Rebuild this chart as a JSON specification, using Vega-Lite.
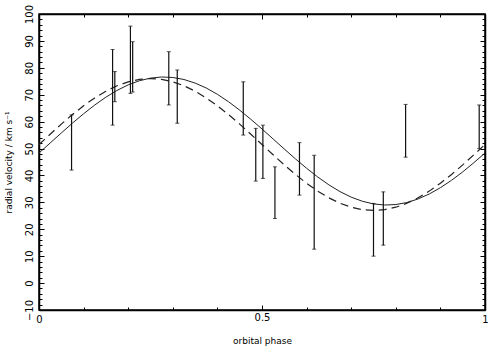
{
  "$schema": "https://vega.github.io/schema/vega-lite/v6.json",
  "width": 446,
  "height": 296,
  "autosize": "none",
  "padding": {"left": 39, "top": 14, "right": 6, "bottom": 37},
  "background": "white",
  "config": {
    "view": {"stroke": "black", "strokeWidth": 1.5},
    "axis": {
      "domainColor": "black", "domainWidth": 1.5, "tickColor": "black", "tickWidth": 1,
      "labelColor": "black", "titleColor": "black", "labelFont": "DejaVu Sans", "titleFont": "DejaVu Sans",
      "labelFontSize": 10, "titleFontSize": 9, "titleFontWeight": "normal", "grid": false
    }
  },
  "datasets": {
    "solid": [
      {"phase": 0, "v": 48.34}, {"phase": 0.025, "v": 52.05}, {"phase": 0.05, "v": 55.78}, {"phase": 0.075, "v": 59.44},
      {"phase": 0.1, "v": 62.93}, {"phase": 0.125, "v": 66.18}, {"phase": 0.15, "v": 69.09}, {"phase": 0.175, "v": 71.61},
      {"phase": 0.2, "v": 73.66}, {"phase": 0.225, "v": 75.19}, {"phase": 0.25, "v": 76.18}, {"phase": 0.275, "v": 76.59},
      {"phase": 0.3, "v": 76.41}, {"phase": 0.325, "v": 75.66}, {"phase": 0.35, "v": 74.33}, {"phase": 0.375, "v": 72.49},
      {"phase": 0.4, "v": 70.15}, {"phase": 0.425, "v": 67.39}, {"phase": 0.45, "v": 64.27}, {"phase": 0.475, "v": 60.86},
      {"phase": 0.5, "v": 57.26}, {"phase": 0.525, "v": 53.55}, {"phase": 0.55, "v": 49.82}, {"phase": 0.575, "v": 46.16},
      {"phase": 0.6, "v": 42.67}, {"phase": 0.625, "v": 39.42}, {"phase": 0.65, "v": 36.51}, {"phase": 0.675, "v": 33.99},
      {"phase": 0.7, "v": 31.94}, {"phase": 0.725, "v": 30.41}, {"phase": 0.75, "v": 29.42}, {"phase": 0.775, "v": 29.01},
      {"phase": 0.8, "v": 29.19}, {"phase": 0.825, "v": 29.94}, {"phase": 0.85, "v": 31.27}, {"phase": 0.875, "v": 33.11},
      {"phase": 0.9, "v": 35.45}, {"phase": 0.925, "v": 38.21}, {"phase": 0.95, "v": 41.33}, {"phase": 0.975, "v": 44.74},
      {"phase": 1, "v": 48.34}
    ],
    "dashed": [
      {"phase": 0, "v": 51.5}, {"phase": 0.025, "v": 55.33}, {"phase": 0.05, "v": 59.07}, {"phase": 0.075, "v": 62.62},
      {"phase": 0.1, "v": 65.9}, {"phase": 0.125, "v": 68.82}, {"phase": 0.15, "v": 71.32}, {"phase": 0.175, "v": 73.33},
      {"phase": 0.2, "v": 74.8}, {"phase": 0.225, "v": 75.7}, {"phase": 0.25, "v": 76.0}, {"phase": 0.275, "v": 75.7},
      {"phase": 0.3, "v": 74.8}, {"phase": 0.325, "v": 73.33}, {"phase": 0.35, "v": 71.32}, {"phase": 0.375, "v": 68.82},
      {"phase": 0.4, "v": 65.9}, {"phase": 0.425, "v": 62.62}, {"phase": 0.45, "v": 59.07}, {"phase": 0.475, "v": 55.33},
      {"phase": 0.5, "v": 51.5}, {"phase": 0.525, "v": 47.67}, {"phase": 0.55, "v": 43.93}, {"phase": 0.575, "v": 40.38},
      {"phase": 0.6, "v": 37.1}, {"phase": 0.625, "v": 34.18}, {"phase": 0.65, "v": 31.68}, {"phase": 0.675, "v": 29.67},
      {"phase": 0.7, "v": 28.2}, {"phase": 0.725, "v": 27.3}, {"phase": 0.75, "v": 27.0}, {"phase": 0.775, "v": 27.3},
      {"phase": 0.8, "v": 28.2}, {"phase": 0.825, "v": 29.67}, {"phase": 0.85, "v": 31.68}, {"phase": 0.875, "v": 34.18},
      {"phase": 0.9, "v": 37.1}, {"phase": 0.925, "v": 40.38}, {"phase": 0.95, "v": 43.93}, {"phase": 0.975, "v": 47.67},
      {"phase": 1, "v": 51.5}
    ],
    "obs": [
      {"phase": 0.073, "lo": 42.0, "hi": 62.5},
      {"phase": 0.165, "lo": 58.7, "hi": 86.8},
      {"phase": 0.17, "lo": 67.4, "hi": 78.6},
      {"phase": 0.205, "lo": 70.5, "hi": 95.5},
      {"phase": 0.21, "lo": 71.0, "hi": 89.7},
      {"phase": 0.291, "lo": 66.2, "hi": 86.0},
      {"phase": 0.31, "lo": 59.4, "hi": 79.2},
      {"phase": 0.458, "lo": 55.0, "hi": 74.8},
      {"phase": 0.486, "lo": 37.9, "hi": 57.5},
      {"phase": 0.502, "lo": 38.9, "hi": 58.7},
      {"phase": 0.529, "lo": 24.0, "hi": 43.2},
      {"phase": 0.584, "lo": 32.7, "hi": 52.2},
      {"phase": 0.617, "lo": 12.6, "hi": 47.5},
      {"phase": 0.75, "lo": 10.0, "hi": 29.6},
      {"phase": 0.772, "lo": 14.1, "hi": 33.9},
      {"phase": 0.822, "lo": 46.8, "hi": 66.4},
      {"phase": 0.987, "lo": 50.0, "hi": 66.2}
    ]
  },
  "resolve": {"axis": {"x": "independent", "y": "independent"}},
  "layer": [
    {
      "data": {"name": "solid"},
      "mark": {"type": "line", "color": "#222", "strokeWidth": 1, "clip": true},
      "encoding": {
        "x": {"field": "phase", "type": "quantitative", "scale": {"domain": [0, 1], "nice": false},
          "axis": {"orient": "bottom", "title": "orbital phase", "values": [0, 0.1, 0.2, 0.3, 0.4, 0.5, 0.6, 0.7, 0.8, 0.9, 1],
            "labelExpr": "datum.value == 0 ? '0' : (datum.value == 0.5 ? '0.5' : (datum.value == 1 ? '1' : ''))",
            "tickSize": {"condition": {"test": "datum.value == 0.5", "value": -5}, "value": -3},
            "labelPadding": 7, "titlePadding": 12, "labelFlush": false}},
        "y": {"field": "v", "type": "quantitative", "scale": {"domain": [-10, 100], "nice": false},
          "axis": {"orient": "left", "title": "radial velocity / km s⁻¹",
            "values": [-10, -8, -6, -4, -2, 0, 2, 4, 6, 8, 10, 12, 14, 16, 18, 20, 22, 24, 26, 28, 30, 32, 34, 36, 38, 40, 42, 44, 46, 48, 50, 52, 54, 56, 58, 60, 62, 64, 66, 68, 70, 72, 74, 76, 78, 80, 82, 84, 86, 88, 90, 92, 94, 96, 98, 100],
            "labelExpr": "datum.value % 10 == 0 ? datum.label : ''",
            "tickSize": {"condition": {"test": "datum.value % 10 == 0", "value": -5}, "value": -3},
            "labelAngle": 270, "labelAlign": "center", "labelBaseline": "middle", "labelPadding": 15, "titlePadding": 11, "labelFlush": false}}
      }
    },
    {
      "data": {"name": "dashed"},
      "mark": {"type": "line", "color": "#222", "strokeWidth": 1.2, "strokeDash": [8, 5], "clip": true},
      "encoding": {
        "x": {"field": "phase", "type": "quantitative", "scale": {"domain": [0, 1], "nice": false},
          "axis": {"orient": "top", "title": null, "labels": false, "values": [0, 0.1, 0.2, 0.3, 0.4, 0.5, 0.6, 0.7, 0.8, 0.9, 1],
            "tickSize": {"condition": {"test": "datum.value == 0.5", "value": -5}, "value": -3}}},
        "y": {"field": "v", "type": "quantitative", "scale": {"domain": [-10, 100], "nice": false},
          "axis": {"orient": "right", "title": null, "labels": false,
            "values": [-10, -8, -6, -4, -2, 0, 2, 4, 6, 8, 10, 12, 14, 16, 18, 20, 22, 24, 26, 28, 30, 32, 34, 36, 38, 40, 42, 44, 46, 48, 50, 52, 54, 56, 58, 60, 62, 64, 66, 68, 70, 72, 74, 76, 78, 80, 82, 84, 86, 88, 90, 92, 94, 96, 98, 100],
            "tickSize": {"condition": {"test": "datum.value % 10 == 0", "value": -5}, "value": -3}}}
      }
    },
    {
      "data": {"name": "obs"},
      "mark": {"type": "rule", "color": "#111", "strokeWidth": 1.2},
      "encoding": {
        "x": {"field": "phase", "type": "quantitative", "axis": null},
        "y": {"field": "lo", "type": "quantitative", "axis": null},
        "y2": {"field": "hi"}
      }
    },
    {
      "data": {"name": "obs"},
      "mark": {"type": "tick", "color": "#111", "size": 4, "thickness": 1, "orient": "horizontal"},
      "encoding": {
        "x": {"field": "phase", "type": "quantitative", "axis": null},
        "y": {"field": "lo", "type": "quantitative", "axis": null}
      }
    },
    {
      "data": {"name": "obs"},
      "mark": {"type": "tick", "color": "#111", "size": 4, "thickness": 1, "orient": "horizontal"},
      "encoding": {
        "x": {"field": "phase", "type": "quantitative", "axis": null},
        "y": {"field": "hi", "type": "quantitative", "axis": null}
      }
    }
  ]
}
